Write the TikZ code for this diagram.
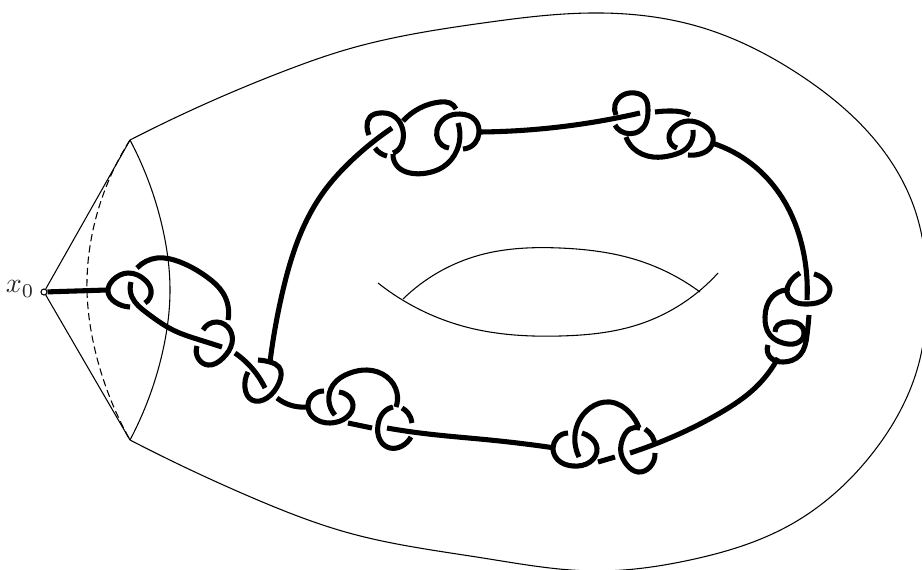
\documentclass[tikz,border=0pt]{standalone}
\usetikzlibrary{hobby}
\tikzset{
  thinline/.style={line width=0.8pt,black,use Hobby shortcut},
  strand/.style={line width=3.8pt,black,line cap=butt,line join=round,use Hobby shortcut},
  basepoint/.style={circle,draw=black,fill=white,line width=0.8pt,inner sep=0pt,minimum size=4.5pt},
  baselabel/.style={scale=2.1,text=black!85,inner sep=0pt}
}
\begin{document}
\begin{tikzpicture}[x=0.75pt,y=-0.75pt]
\useasboundingbox (0,0) rectangle (922,569);
\clip (0,0) rectangle (922,569);
% surface
\draw[thinline] (130,140) .. (287,70) .. (345,50) .. (483,23) .. (590,13) .. (700,27) .. (800,75) .. (875,140) .. (915,210) .. (927,290) .. (917,370) .. (875,450) .. (790,525) .. (690,560) .. (595,571) .. (483,558) .. (349,533) .. (253,498) .. (130,440);
\draw[thinline] (130,140) .. (163,230) .. (170,290) .. (163,350) .. (130,440);
\draw[thinline,dash pattern=on 5.5pt off 3pt] (130,140) .. (93,230) .. (87,290) .. (95,350) .. (130,440);
\draw[thinline] (378,283) .. (470,328) .. (560,336) .. (637,325) .. (718,273);
\draw[thinline] (403,299) .. (480,255) .. (560,248) .. (637,260) .. (700,292);
\node[basepoint] (x0) at (44,292) {};
\node[baselabel,anchor=east] (x0label) at (35,289) {$x_0$};
\draw[line width=0.8pt] (x0) -- (130,140);
\draw[line width=0.8pt] (x0) -- (130,440);
% knot 1
\coordinate (a1) at (107,290);
\draw[line width=3.8pt] (x0) -- (a1);
\draw[strand] (130,307) .. (115,302) .. (108,292) .. (113,280) .. (128,273) .. (145,280) .. (151,290) .. (145,303);
\draw[strand] (131,282) .. (132,297) .. (147,313) .. (173,330) .. (200,340) .. (222,347);
\draw[strand] (137,268) .. (157,258) .. (180,262) .. (207,277) .. (223,293) .. (228,320);
\draw[strand] (203,330) .. (217,322) .. (230,330) .. (232,343) .. (223,358) .. (208,365) .. (198,358) .. (197,346);
\draw[strand] (235,353) .. (250,366) .. (265,388);
% knot 3
\draw[strand] (258,360) .. (270,362) .. (279,367) .. (279,383) .. (267,398) .. (252,400) .. (245,388) .. (248,372);
\draw[strand] (270,362) .. (283,290) .. (300,235) .. (325,190) .. (350,162) .. (392,128);
\draw[strand] (277,398) .. (290,405) .. (307,407);
% knot 4
\draw[strand] (324,391) .. (313,395) .. (308,405) .. (313,417) .. (330,423) .. (347,417) .. (353,405) .. (347,395) .. (339,392);
\draw[strand] (335,415) .. (329,402) .. (333,385) .. (350,373) .. (367,370) .. (387,377) .. (397,393) .. (396,407);
\draw[strand] (348,423) .. (372,428);
\draw[strand] (402,408) .. (408,413) .. (412,423);
\draw[strand] (411,437) .. (402,446) .. (390,448) .. (380,440) .. (378,425) .. (383,413) .. (393,407);
\draw[strand] (387,428) .. (420,433) .. (490,440) .. (555,448);
% knot 6
\draw[strand] (568,433) .. (557,438) .. (553,448) .. (558,460) .. (573,466) .. (590,462) .. (597,448) .. (590,437) .. (582,433);
\draw[strand] (579,457) .. (575,443) .. (578,423) .. (590,408) .. (610,402) .. (630,413) .. (639,428);
\draw[strand] (598,462) .. (615,457);
\draw[strand] (645,429) .. (652,436) .. (655,445);
\draw[strand] (655,453) .. (650,467) .. (638,472) .. (627,465) .. (621,453) .. (623,438) .. (630,429) .. (640,428);
\draw[strand] (630,453) .. (670,438) .. (720,413) .. (755,388) .. (778,358);
% knot 8
\draw[strand] (786,290) .. (772,297) .. (765,317) .. (770,335) .. (783,343) .. (797,343) .. (804,335) .. (797,323) .. (787,322) .. (778,325) .. (775,332);
\draw[strand] (768,345) .. (770,357) .. (783,362) .. (800,355) .. (807,335) .. (809,315);
\draw[strand] (800,273) .. (790,282) .. (787,292) .. (795,302) .. (808,304) .. (825,299) .. (830,290) .. (825,280) .. (814,274);
\draw[strand] (712,143) .. (753,165) .. (787,206) .. (803,250) .. (807,300);
% knot 10
\draw[strand] (616,115) .. (615,105) .. (623,95) .. (635,93) .. (645,98) .. (648,110) .. (645,125) .. (635,133) .. (625,133) .. (617,128) .. (615,125);
\draw[strand] (626,137) .. (633,148) .. (653,157) .. (673,155) .. (687,148) .. (693,130);
\draw[strand] (655,112) .. (672,111) .. (682,112) .. (690,115);
\draw[strand] (677,148) .. (669,138) .. (674,127) .. (688,121) .. (703,125) .. (713,137) .. (710,148) .. (700,154) .. (688,155);
\draw[strand] (480,132) .. (559,127) .. (640,113);
% knot 12
\draw[strand] (369,135) .. (367,127) .. (370,117) .. (380,113) .. (392,115) .. (402,127) .. (403,140) .. (398,150) .. (393,153);
\draw[strand] (375,148) .. (380,153) .. (387,156);
\draw[strand] (393,154) .. (398,167) .. (410,173) .. (427,173) .. (443,167) .. (457,150) .. (458,123);
\draw[strand] (403,121) .. (420,108) .. (440,102) .. (450,103) .. (456,109);
\draw[strand] (449,148) .. (438,140) .. (437,130) .. (445,118) .. (460,114) .. (475,120) .. (479,133) .. (475,143) .. (463,149);
\end{tikzpicture}
\end{document}
